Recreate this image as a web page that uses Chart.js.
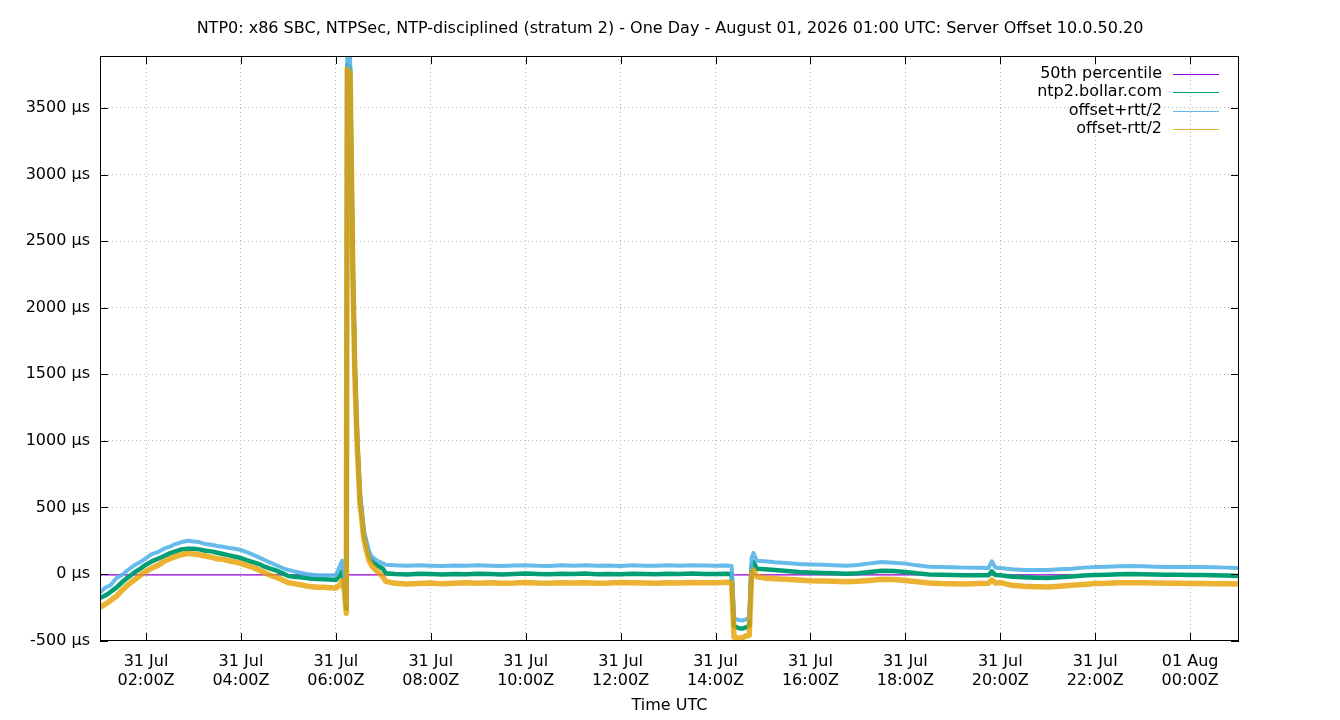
<!DOCTYPE html>
<html>
<head>
<meta charset="utf-8">
<title>NTP0 Server Offset</title>
<script src="https://cdn.jsdelivr.net/npm/chart.js@4.4.1/dist/chart.umd.min.js"></script>
<style>
  html, body { margin: 0; padding: 0; background: #fff; }
  #chart-container { width: 1340px; height: 720px; }
</style>
</head>
<body>
<div id="chart-container"><canvas id="offset-chart" width="1340" height="720"></canvas></div>
<script>
var chartTitle = "NTP0: x86 SBC, NTPSec, NTP-disciplined (stratum 2) - One Day - August 01, 2026 01:00 UTC: Server Offset 10.0.50.20";
var xTitle = "Time UTC";
var seriesNames = ["50th percentile", "ntp2.bollar.com", "offset+rtt/2", "offset-rtt/2"];

// hours since 31 Jul 00:00Z
var hours = [
  1.03, 1.15, 1.25, 1.38, 1.50, 1.62, 1.75, 1.88, 2.00, 2.12, 2.25, 2.38, 2.50, 2.62, 2.75, 2.88,
  3.00, 3.12, 3.25, 3.38, 3.50, 3.62, 3.75, 3.88, 4.00, 4.12, 4.25, 4.38, 4.50, 4.62, 4.75, 4.88,
  5.00, 5.12, 5.25, 5.38, 5.50, 5.62, 5.75, 5.88, 6.00,
  6.09, 6.13, 6.18, 6.22, 6.24, 6.30, 6.36, 6.40, 6.45, 6.51, 6.55, 6.59, 6.64, 6.70, 6.76, 6.87, 6.99, 7.05,
  7.25, 7.50, 7.75, 8.00, 8.25, 8.50, 8.75, 9.00, 9.25, 9.50, 9.75, 10.00, 10.25, 10.50, 10.75, 11.00,
  11.25, 11.50, 11.75, 12.00, 12.25, 12.50, 12.75, 13.00, 13.25, 13.50, 13.75, 14.00, 14.25,
  14.34, 14.39, 14.48, 14.56, 14.64, 14.71, 14.76, 14.80, 14.87, 15.04, 15.25, 15.50, 15.75,
  16.00, 16.25, 16.50, 16.75, 17.00, 17.25, 17.50, 17.75, 18.00, 18.25, 18.50, 18.75, 19.00, 19.25,
  19.50, 19.75, 19.82, 19.90, 20.00, 20.25, 20.50, 20.75, 21.00, 21.25, 21.50, 21.75, 22.00, 22.25,
  22.50, 22.75, 23.00, 23.25, 23.50, 23.75, 24.00, 24.25, 24.50, 24.75, 25.03
];
// ntp2.bollar.com offset, µs
var offset = [
  -180, -160, -135, -100, -60, -25, 10, 40, 70, 95, 115, 135, 155, 170, 185, 190,
  190, 185, 175, 170, 160, 150, 140, 130, 120, 105, 90, 75, 55, 40, 25, 5,
  -15, -20, -25, -30, -35, -38, -40, -42, -45,
  -10, 20, -60, -260, 3820, 3800, 2250, 1550, 1000, 560, 440, 300, 220, 140, 100, 65, 40, 5,
  0, -3, 2, 0, -4, 1, -2, 2, 0, -3, 1, 3, 0, -2, 2, 0,
  3, -1, 1, -2, 2, 0, -1, 2, 0, 3, 1, 0, 2,
  0, -390, -405, -410, -400, -390, 60, 90, 40, 35, 30, 22, 15,
  12, 8, 5, 2, 5, 15, 25, 22, 15, 5, -3, -6, -8, -10,
  -10, -10, 20, -8, -10, -20, -25, -28, -30, -25, -18, -12, -8, -5,
  -2, 0, -2, -4, -5, -6, -8, -8, -10, -12, -15
];
// offset + rtt/2, µs
var offsetPlus = [
  -140, -100, -85, -30, -5, 30, 65, 90, 120, 150, 165, 190, 205, 225, 240, 250,
  245, 240, 225, 220, 210, 205, 195, 190, 180, 165, 145, 125, 105, 85, 65, 45,
  30, 20, 10, 0, -5, -10, -10, -12, -8,
  65, 100, -20, -230, 3890, 3880, 2300, 1600, 1050, 600, 480, 330, 255, 170, 128, 100, 80, 70,
  65, 62, 66, 63, 60, 64, 62, 66, 63, 60, 64, 66, 62, 60, 65, 62,
  66, 63, 64, 61, 65, 62, 63, 66, 62, 65, 64, 62, 64,
  60, -330, -345, -350, -340, -330, 120, 158, 100, 95, 88, 82, 75,
  72, 70, 66, 62, 68, 80, 90, 85, 78, 65, 55, 52, 50, 48,
  47, 45, 95, 48, 45, 35, 30, 30, 30, 35, 40, 48, 52, 55,
  58, 60, 58, 55, 52, 52, 52, 52, 50, 48, 45
];
// offset - rtt/2, µs
var offsetMinus = [
  -250, -225, -200, -165, -120, -80, -45, -10, 20, 45, 65, 95, 115, 130, 145, 155,
  150, 145, 135, 125, 115, 110, 100, 90, 80, 65, 50, 30, 10, -10, -25, -45,
  -65, -72, -80, -90, -95, -100, -100, -103, -105,
  -80, -50, -130, -295, 3790, 3760, 2200, 1500, 960, 520, 400, 260, 180, 100, 60, 20, -20, -55,
  -70, -75, -72, -68, -74, -70, -66, -70, -65, -70, -68, -64, -68, -70, -66, -68,
  -65, -70, -68, -64, -66, -68, -70, -65, -68, -64, -66, -65, -62,
  -65, -475, -480, -478, -465, -460, 0, 30, -20, -30, -35, -40, -45,
  -50, -52, -55, -58, -55, -48, -40, -42, -48, -58, -68, -72, -74, -75,
  -72, -70, -45, -68, -65, -85, -92, -95, -98, -92, -85, -78, -72, -70,
  -66, -65, -66, -68, -70, -70, -72, -72, -73, -74, -75
];
var median = -6;

var xStart = 1.03, xEnd = 25.03;
var xTickHours = [2, 4, 6, 8, 10, 12, 14, 16, 18, 20, 22, 24];
var xTickDays = ["31 Jul", "31 Jul", "31 Jul", "31 Jul", "31 Jul", "31 Jul", "31 Jul", "31 Jul", "31 Jul", "31 Jul", "31 Jul", "01 Aug"];
var xTickTimes = ["02:00Z", "04:00Z", "06:00Z", "08:00Z", "10:00Z", "12:00Z", "14:00Z", "16:00Z", "18:00Z", "20:00Z", "22:00Z", "00:00Z"];
var yMin = -503, yMax = 3890;
var yTicks = [-500, 0, 500, 1000, 1500, 2000, 2500, 3000, 3500];

function toPoints(xs, ys) {
  var pts = [];
  for (var i = 0; i < xs.length; i++) {
    pts.push({x: xs[i], y: ys[i]});
  }
  return pts;
}

// gnuplot look: frame, inward ticks on all sides, title, legend inside the plot
var gnuplotFrame = {
  id: 'gnuplotFrame',
  afterDraw: function(chart) {
    var ctx = chart.ctx;
    var a = chart.chartArea;
    var xs = chart.scales.x, ys = chart.scales.y;
    var tl = 8;
    ctx.save();
    ctx.strokeStyle = '#000';
    ctx.lineWidth = 1;
    ctx.strokeRect(Math.round(a.left) + 0.5, Math.round(a.top) + 0.5,
                   Math.round(a.right - a.left) - 1, Math.round(a.bottom - a.top) - 1);
    ctx.beginPath();
    xTickHours.forEach(function(h) {
      var px = Math.round(xs.getPixelForValue(h)) + 0.5;
      ctx.moveTo(px, a.bottom); ctx.lineTo(px, a.bottom - tl);
      ctx.moveTo(px, a.top); ctx.lineTo(px, a.top + tl);
    });
    yTicks.forEach(function(v) {
      var py = Math.round(ys.getPixelForValue(v)) + 0.5;
      ctx.moveTo(a.left, py); ctx.lineTo(a.left + tl, py);
      ctx.moveTo(a.right, py); ctx.lineTo(a.right - tl, py);
    });
    ctx.stroke();

    ctx.fillStyle = '#000';
    ctx.font = '16px "DejaVu Sans"';
    ctx.textAlign = 'center';
    ctx.textBaseline = 'middle';
    ctx.fillText(chartTitle, 670, 29);
    ctx.fillText(xTitle, (a.left + a.right) / 2, 706);

    // legend, text left of the sample line like gnuplot "key top right"
    ctx.textAlign = 'right';
    chart.data.datasets.forEach(function(ds, i) {
      var y = 74 + i * 18.3;
      ctx.fillStyle = '#000';
      ctx.fillText(ds.label, 1162, y);
      ctx.strokeStyle = ds.borderColor;
      ctx.lineWidth = 1;
      ctx.beginPath();
      ctx.moveTo(1173, Math.round(y) + 0.5);
      ctx.lineTo(1219, Math.round(y) + 0.5);
      ctx.stroke();
    });
    ctx.restore();
  }
};

Chart.defaults.font.family = '"DejaVu Sans"';
Chart.defaults.font.size = 16;
Chart.defaults.color = '#000';

var ctx = document.getElementById('offset-chart');
var offsetChart = new Chart(ctx, {
  type: 'line',
  data: {
    datasets: [
      {
        label: seriesNames[0],
        data: [{x: xStart, y: median}, {x: xEnd, y: median}],
        borderColor: '#9400d3',
        borderWidth: 1.2,
        order: 4
      },
      {
        label: seriesNames[1],
        data: toPoints(hours, offset),
        borderColor: '#009e73',
        borderWidth: 4.5,
        order: 3
      },
      {
        label: seriesNames[2],
        data: toPoints(hours, offsetPlus),
        borderColor: 'rgba(86, 180, 233, 0.9)',
        borderWidth: 4,
        order: 2
      },
      {
        label: seriesNames[3],
        data: toPoints(hours, offsetMinus),
        borderColor: 'rgba(230, 159, 0, 0.8)',
        borderWidth: 5.5,
        order: 1
      }
    ]
  },
  options: {
    responsive: false,
    animation: false,
    devicePixelRatio: 1,
    events: [],
    layout: { padding: { top: 56, right: 101, left: 0, bottom: 0 } },
    elements: {
      point: { radius: 0 },
      line: { tension: 0, borderJoinStyle: 'round', fill: false }
    },
    plugins: {
      legend: { display: false },
      title: { display: false },
      tooltip: { enabled: false }
    },
    scales: {
      x: {
        type: 'linear',
        min: xStart,
        max: xEnd,
        afterFit: function(scale) { scale.height = 79; },
        afterBuildTicks: function(scale) {
          scale.ticks = xTickHours.map(function(h) { return {value: h}; });
        },
        ticks: {
          autoSkip: false,
          maxRotation: 0,
          padding: 11,
          callback: function(value) {
            var i = xTickHours.indexOf(value);
            return i < 0 ? '' : [xTickDays[i], xTickTimes[i]];
          }
        },
        grid: { color: '#b8b8b8', lineWidth: 1, drawTicks: false },
        border: { display: false, dash: [1, 3] }
      },
      y: {
        type: 'linear',
        min: yMin,
        max: yMax,
        afterFit: function(scale) { scale.width = 100; },
        afterBuildTicks: function(scale) {
          scale.ticks = yTicks.map(function(v) { return {value: v}; });
        },
        ticks: {
          padding: 10,
          callback: function(value) { return value + ' µs'; }
        },
        grid: { color: '#b8b8b8', lineWidth: 1, drawTicks: false },
        border: { display: false, dash: [1, 3] }
      }
    }
  },
  plugins: [gnuplotFrame]
});
</script>
</body>
</html>
